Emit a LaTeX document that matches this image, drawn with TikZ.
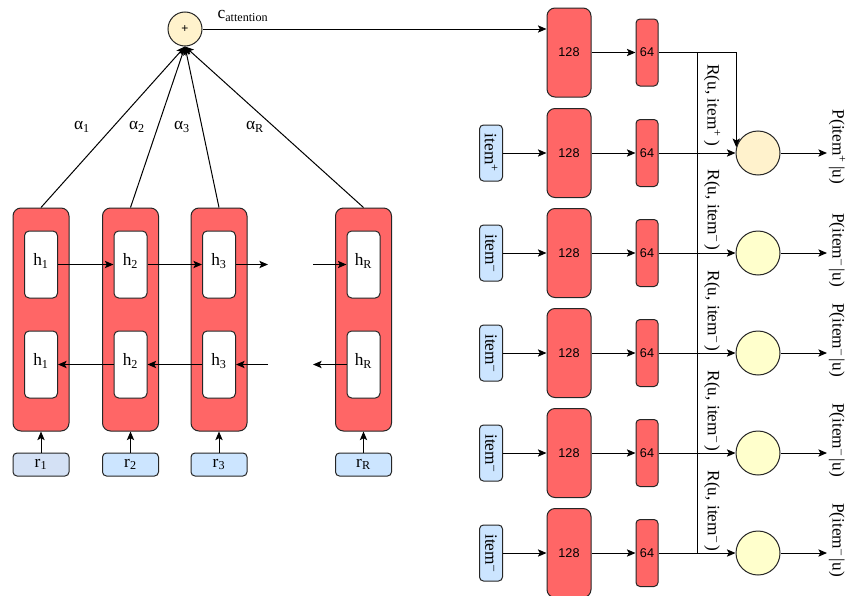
\documentclass[tikz,border=0pt]{standalone}
\usepackage{fontspec}
\setmainfont{Liberation Serif}
\setsansfont{Liberation Sans}
\usepackage{graphicx}
\definecolor{cellred}{RGB}{255, 102, 102}
\definecolor{inblue}{RGB}{204, 229, 255}
\definecolor{inblue1}{RGB}{212, 225, 245}
\definecolor{sumyellow}{RGB}{255, 242, 204}
\definecolor{scoreyellow}{RGB}{255, 255, 204}
\usepackage{tikz}
\usetikzlibrary{arrows.meta, positioning, calc}

\begin{document}
\begin{tikzpicture}[x=0.75pt, y=-0.75pt, line width=0.75pt, font=\fontsize{13}{15}\selectfont,
  arr/.style={-{Stealth[length=6.5pt, width=5.5pt, inset=1.5pt]}},
  bigcell/.style={draw=black!85, fill=cellred, rounded corners=6pt, minimum width=42pt, minimum height=167.25pt, inner sep=0pt},
  hcell/.style={draw=black!85, fill=white, rounded corners=3.5pt, minimum width=24.75pt, minimum height=50.25pt, inner sep=0pt, text depth=7pt},
  rcell/.style={draw=black!85, fill=inblue, rounded corners=3pt, minimum width=42pt, minimum height=17.25pt, inner sep=0pt},
  dense/.style={draw=black!85, fill=cellred, rounded corners=6pt, minimum width=33pt, minimum height=66.75pt, inner sep=0pt, font=\sffamily\fontsize{9.5}{11}\selectfont},
  denselow/.style={draw=black!85, fill=cellred, rounded corners=3pt, minimum width=16.5pt, minimum height=50.25pt, inner sep=0pt, font=\sffamily\fontsize{9.5}{11}\selectfont},
  itemcell/.style={draw=black!85, fill=inblue, rounded corners=3pt, minimum width=17.25pt, minimum height=42pt, inner sep=0pt},
  score/.style={circle, draw=black!85, fill=scoreyellow, minimum size=33pt, inner sep=0pt},
  sidelabel/.style={rotate=-90, inner sep=1pt}]
  \useasboundingbox (0,0) rectangle (846,596);

  % Attention sum
  \node[circle, draw=black!85, fill=sumyellow, minimum size=25.5pt, inner sep=0pt, font=\sffamily\fontsize{9}{10}\selectfont] (plus) at (185,29) {+};
  \node (catt) at (243,16) {c\textsubscript{attention}};

  % Bidirectional cells
  \node[bigcell] (col1) at (41,319.5) {};
  \node[bigcell] (col2) at (130.5,319.5) {};
  \node[bigcell] (col3) at (219,319.5) {};
  \node[bigcell] (colR) at (363.5,319.5) {};

  \node[hcell] (f1) at (41,264.5) {h\textsubscript{1}};
  \node[hcell] (f2) at (130.5,264.5) {h\textsubscript{2}};
  \node[hcell] (f3) at (219,264.5) {h\textsubscript{3}};
  \node[hcell] (fR) at (363.5,264.5) {h\textsubscript{R}};
  \node[hcell] (b1) at (41,364.5) {h\textsubscript{1}};
  \node[hcell] (b2) at (130.5,364.5) {h\textsubscript{2}};
  \node[hcell] (b3) at (219,364.5) {h\textsubscript{3}};
  \node[hcell] (bR) at (363.5,364.5) {h\textsubscript{R}};

  \node[rcell, fill=inblue1] (r1) at (41,464.5) {r\textsubscript{1}};
  \node[rcell] (r2) at (130.5,464.5) {r\textsubscript{2}};
  \node[rcell] (r3) at (219,464.5) {r\textsubscript{3}};
  \node[rcell] (rR) at (363.5,464.5) {r\textsubscript{R}};

  \coordinate (fout) at (268,264.5);
  \coordinate (fin) at (313,264.5);
  \coordinate (bin) at (268,364.5);
  \coordinate (bout) at (313,364.5);

  \draw[arr] (f1) -- (f2);
  \draw[arr] (f2) -- (f3);
  \draw[arr] (f3) -- (fout);
  \draw[arr] (fin) -- (fR);
  \draw[arr] (b2) -- (b1);
  \draw[arr] (b3) -- (b2);
  \draw[arr] (bin) -- (b3);
  \draw[arr] (bR) -- (bout);

  \draw[arr] (r1) -- (col1);
  \draw[arr] (r2) -- (col2);
  \draw[arr] (r3) -- (col3);
  \draw[arr] (rR) -- (colR);

  % Attention weights
  \draw[arr] (col1.north) -- (plus.south);
  \draw[arr] (col2.north) -- (plus.south);
  \draw[arr] (col3.north) -- (plus.south);
  \draw[arr] (colR.north) -- (plus.south);
  \node (a1) at (82,127) {α\textsubscript{1}};
  \node (a2) at (137,127) {α\textsubscript{2}};
  \node (a3) at (182,127) {α\textsubscript{3}};
  \node (aR) at (255,127) {α\textsubscript{R}};

  % User tower
  \node[dense] (u128) at (569,52.5) {128};
  \node[denselow] (u64) at (647,52.5) {64};
  \draw[arr] (plus) -- (plus -| u128.west);
  \draw[arr] (u128) -- (u64);

  % Positive item
  \node[itemcell] (i1) at (491,153) {\rotatebox{-90}{item\textsuperscript{+}}};
  \node[dense] (d1) at (569,153) {128};
  \node[denselow] (e1) at (647,153) {64};
  \node[score, fill=sumyellow] (s1) at (758,153) {};
  \node[sidelabel] (R1) at (712,105) {R(u, item\textsuperscript{+}\,)};
  \node[sidelabel, anchor=south] (p1) at (827,147) {P(item\textsuperscript{+}\,|u)};
  \draw[arr] (i1) -- (d1);
  \draw[arr] (d1) -- (e1);
  \draw[arr] (e1) -- (s1);
  \draw[arr] (s1) -- (s1 -| p1.south);

  % Negative items
  \foreach \k/\y/\ry/\py in {2/253/210/250, 3/353/311/340, 4/453/411/440, 5/553/511/540} {
    \node[itemcell] (i\k) at (491,\y) {\rotatebox{-90}{item\textsuperscript{–}}};
    \node[dense] (d\k) at (569,\y) {128};
    \node[denselow] (e\k) at (647,\y) {64};
    \node[score] (s\k) at (758,\y) {};
    \node[sidelabel] (R\k) at (712,\ry) {R(u, item\textsuperscript{–}\,)};
    \node[sidelabel, anchor=south] (p\k) at (827,\py) {P(item\textsuperscript{–}\,|u)};
    \draw[arr] (i\k) -- (d\k);
    \draw[arr] (d\k) -- (e\k);
    \draw[arr] (e\k) -- (s\k);
    \draw[arr] (s\k) -- (s\k -| p\k.south);
  }

  % User vector to the scores
  \coordinate (busTop) at (697,52.5);
  \coordinate (busBot) at (697,553);
  \draw[arr] (u64.east) -| (s1.165);
  \draw (busTop) -- (busBot);
\end{tikzpicture}
\end{document}
